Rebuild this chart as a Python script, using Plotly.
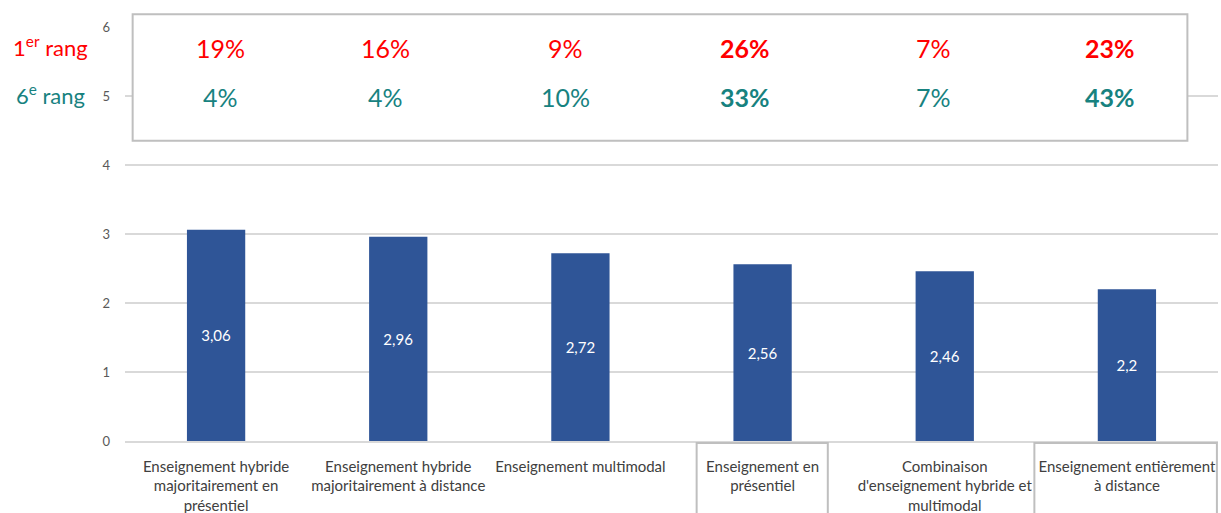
import plotly.graph_objects as go

categories = [
    "Enseignement hybride<br>majoritairement en<br>présentiel",
    "Enseignement hybride<br>majoritairement à distance",
    "Enseignement multimodal",
    "Enseignement en<br>présentiel",
    "Combinaison<br>d'enseignement hybride et<br>multimodal",
    "Enseignement entièrement<br>à distance",
]
scores = [3.06, 2.96, 2.72, 2.56, 2.46, 2.2]
score_labels = ["3,06", "2,96", "2,72", "2,56", "2,46", "2,2"]
rank1 = ["19%", "16%", "9%", "26%", "7%", "23%"]
rank6 = ["4%", "4%", "10%", "33%", "7%", "43%"]
highlight = [False, False, False, True, False, True]

RED = "#ff0000"
TEAL = "#17827f"
FONT = "Lato"
# horizontal nudges of the percentage columns (px)
pct_shift = [4, -13, -15, -18, -11, -17]

fig = go.Figure()
fig.add_trace(go.Bar(
    x=list(range(len(categories))),
    y=scores,
    text=score_labels,
    textposition="inside",
    insidetextanchor="middle",
    textfont=dict(color="white", size=15, family=FONT),
    marker=dict(color="#2f5597", line=dict(width=0)),
    width=0.32,
    hoverinfo="skip",
))

annotations = []
for i, (a, b, bold) in enumerate(zip(rank1, rank6, highlight)):
    for val, yv, col in [(a, 5.70, RED), (b, 4.99, TEAL)]:
        txt = f"<b>{val}</b>" if bold else val
        annotations.append(dict(
            x=i, y=yv, xref="x", yref="y", text=txt, showarrow=False,
            xshift=pct_shift[i], font=dict(color=col, size=25, family=FONT),
        ))

# row labels, left of the plot area
annotations.append(dict(x=-0.068, y=5.70, xref="paper", yref="y", xanchor="center",
                        yanchor="middle", yshift=1,
                        text="1<sup>er</sup> rang", showarrow=False,
                        font=dict(color=RED, size=22, family=FONT)))
annotations.append(dict(x=-0.068, y=4.99, xref="paper", yref="y", xanchor="center",
                        yanchor="middle", yshift=2,
                        text="6<sup>e</sup> rang", showarrow=False,
                        font=dict(color=TEAL, size=22, family=FONT)))

shapes = [
    # white box over the top gridlines holding the rank table
    dict(type="rect", xref="paper", yref="paper", x0=0.007, x1=0.972, y0=0.725, y1=1.031,
         line=dict(color="#bfbfbf", width=2), fillcolor="white", layer="above"),
    dict(type="rect", xref="paper", yref="paper", x0=0.523, x1=0.643, y0=-0.005, y1=-0.2,
         line=dict(color="#bfbfbf", width=2)),
    dict(type="rect", xref="paper", yref="paper", x0=0.832, x1=0.999, y0=-0.005, y1=-0.2,
         line=dict(color="#bfbfbf", width=2)),
]

fig.update_layout(
    width=1221, height=513,
    margin=dict(l=125, r=3, t=27, b=72, autoexpand=False),
    plot_bgcolor="white", paper_bgcolor="white",
    showlegend=False,
    annotations=annotations,
    shapes=shapes,
    font=dict(family=FONT, color="#404040"),
)
fig.update_xaxes(
    tickmode="array", tickvals=list(range(len(categories))), ticktext=categories,
    range=[-0.5, 5.5], showgrid=False, showline=True, linecolor="#d9d9d9", linewidth=1.5,
    tickfont=dict(size=15, color="#404040", family=FONT), ticklabelstandoff=11,
    automargin=False,
)
fig.update_yaxes(
    range=[0, 6], dtick=1, showgrid=True, gridcolor="#d9d9d9", gridwidth=1.5,
    zeroline=False, tickfont=dict(size=13, color="#595959", family=FONT),
    ticklabelstandoff=14, automargin=False,
)

# drop the browser's default body margin so the figure sits at the page corner
fig.write_html("out.html", config={"displayModeBar": False},
               post_script="document.body.style.margin='0';")
